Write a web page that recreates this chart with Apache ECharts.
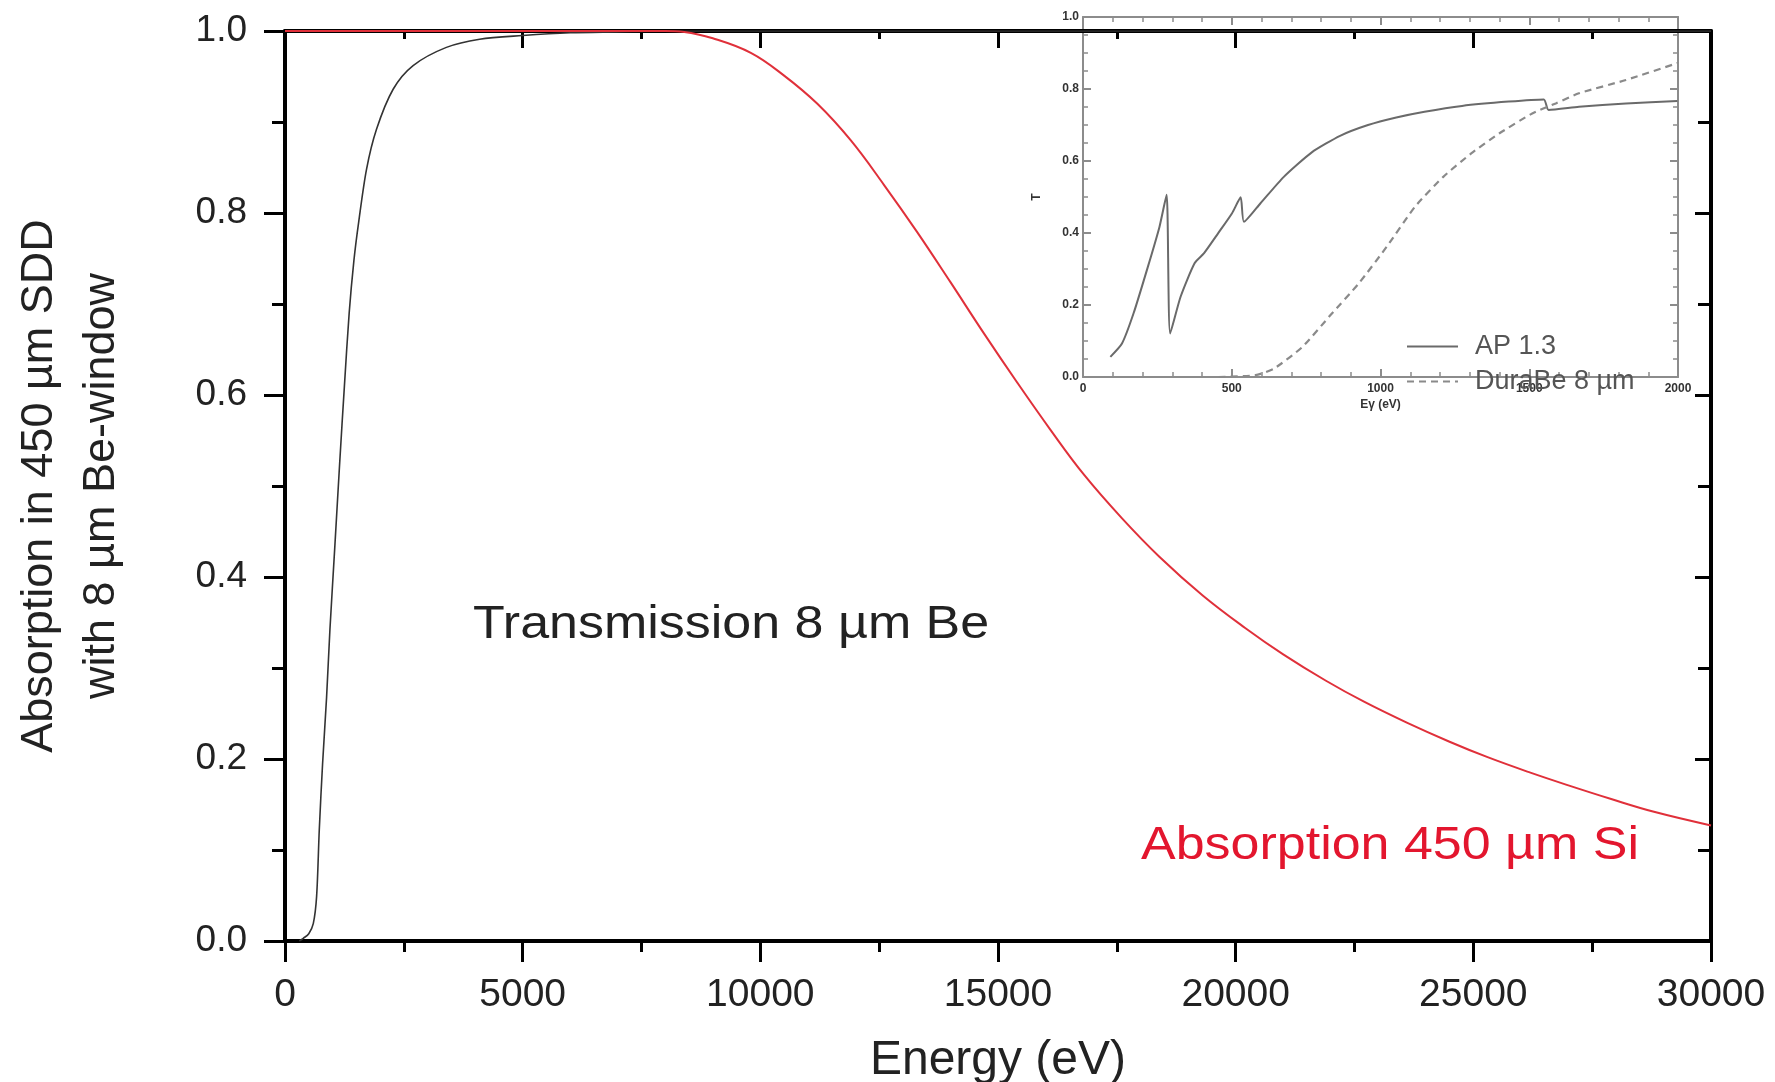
<!DOCTYPE html>
<html>
<head>
<meta charset="utf-8">
<script src="https://cdn.jsdelivr.net/npm/echarts@6/dist/echarts.min.js"></script>
<style>
html,body{margin:0;padding:0;background:#fff}
#chart{width:1775px;height:1082px}
</style>
</head>
<body>
<div id="chart"></div>
<script>
// main plot: 8 um Be transmission (black)
const beEnergy = [300, 385, 500, 595, 665, 721, 791, 875, 945, 1050, 1150, 1250, 1350, 1450, 1550, 1715, 1925, 2275, 2695, 3395, 4095, 5000, 6000, 7000, 8000, 30000];
const beTrans  = [0, 0.003, 0.008, 0.019, 0.049, 0.122, 0.195, 0.268, 0.342, 0.435, 0.525, 0.61, 0.69, 0.748, 0.79, 0.848, 0.892, 0.936, 0.962, 0.982, 0.991, 0.995, 0.998, 0.999, 1.0, 1.0];

// main plot: 450 um Si absorption (red)
const siEnergy = [0, 8000, 8400, 9000, 9800, 10500, 11200, 11900, 12600, 13300, 14000, 14700, 15400, 16100, 16800, 17600, 18400, 19300, 20200, 21000, 21900, 22700, 23600, 24500, 25300, 26200, 27000, 27900, 28800, 30000];
const siAbs    = [1, 1, 0.999, 0.992, 0.976, 0.951, 0.92, 0.88, 0.831, 0.779, 0.724, 0.668, 0.614, 0.562, 0.513, 0.465, 0.422, 0.38, 0.344, 0.315, 0.286, 0.263, 0.24, 0.219, 0.202, 0.185, 0.171, 0.156, 0.142, 0.127];

// inset: AP 1.3 window (solid)
const apEnergy = [92, 131, 170, 218, 257, 281, 293, 328, 375, 407, 454, 501, 530, 541, 596, 675, 769, 864, 958, 1053, 1148, 1274, 1431, 1549, 1565, 1667, 1825, 1998];
const apTrans  = [0.056, 0.093, 0.177, 0.306, 0.417, 0.506, 0.121, 0.223, 0.316, 0.344, 0.399, 0.455, 0.499, 0.431, 0.482, 0.556, 0.624, 0.670, 0.700, 0.721, 0.737, 0.753, 0.765, 0.771, 0.742, 0.751, 0.76, 0.767];

// inset: DuraBe 8 um (dashed)
const duraEnergy = [456, 580, 643, 738, 832, 927, 1021, 1116, 1211, 1305, 1400, 1510, 1589, 1667, 1825, 1998];
const duraTrans  = [0, 0.005, 0.024, 0.084, 0.172, 0.26, 0.362, 0.473, 0.556, 0.621, 0.677, 0.732, 0.76, 0.788, 0.825, 0.872];

const FONT = '"Liberation Sans", Arial, Helvetica, sans-serif';

function pairs(xs, ys) {
    return xs.map(function (x, i) { return [x, ys[i]]; });
}
function plain(v) { return String(v); }
function oneDec(v) { return v.toFixed(1); }

const chart = echarts.init(document.getElementById('chart'), null, {renderer: 'canvas'});

const black = '#000';
const insetGray = '#8c8c8c';

const mainTickStyle = {color: black, width: 3};
const insetLabel = {fontSize: 12, fontWeight: 'bold', color: '#333', fontFamily: FONT};

const option = {
    backgroundColor: '#fff',
    animation: false,
    grid: [
        {left: 285, top: 31, width: 1426, height: 910, outerBoundsMode: 'none', containLabel: false},
        {left: 1083, top: 17, width: 595, height: 360, outerBoundsMode: 'none', containLabel: false}
    ],
    legend: {
        data: ['AP 1.3', 'DuraBe 8 µm'],
        orient: 'vertical',
        left: 1401,
        top: 328,
        itemWidth: 51,
        itemHeight: 27,
        itemGap: 8,
        selectedMode: false,
        itemStyle: {opacity: 0},
        textStyle: {fontSize: 27, color: '#555', fontFamily: FONT, padding: [0, 0, 0, 12]}
    },
    xAxis: [
        {
            gridIndex: 0, type: 'value', position: 'bottom',
            min: 0, max: 30000, interval: 5000,
            axisLine: {show: true, onZero: false, lineStyle: {color: black, width: 4}},
            axisTick: {show: true, length: 21, lineStyle: mainTickStyle},
            minorTick: {show: true, splitNumber: 2, length: 11, lineStyle: mainTickStyle},
            axisLabel: {fontSize: 39, color: '#222', margin: 35, fontFamily: FONT, formatter: plain},
            splitLine: {show: false},
            name: 'Energy (eV)', nameLocation: 'middle', nameGap: 93,
            nameTextStyle: {fontSize: 48, color: '#222', fontFamily: FONT, lineHeight: 54}
        },
        {
            gridIndex: 0, type: 'value', position: 'top',
            min: 0, max: 30000, interval: 5000,
            axisLine: {show: true, onZero: false, lineStyle: {color: black, width: 4}},
            axisTick: {show: true, inside: true, length: 17, lineStyle: mainTickStyle},
            minorTick: {show: true, splitNumber: 2, length: 8, lineStyle: mainTickStyle},
            axisLabel: {show: false},
            splitLine: {show: false}
        },
        {
            gridIndex: 1, type: 'value', position: 'bottom',
            min: 0, max: 2000, interval: 500,
            axisLine: {show: true, onZero: false, lineStyle: {color: insetGray, width: 2}},
            axisTick: {show: true, inside: true, length: 8, lineStyle: {color: insetGray, width: 2}},
            minorTick: {show: true, splitNumber: 5, length: 5, lineStyle: {color: insetGray, width: 1.5}},
            axisLabel: Object.assign({margin: 6, formatter: plain}, insetLabel),
            splitLine: {show: false},
            name: 'Eγ (eV)', nameLocation: 'middle', nameGap: 22,
            nameTextStyle: insetLabel
        },
        {
            gridIndex: 1, type: 'value', position: 'top',
            min: 0, max: 2000, interval: 500,
            axisLine: {show: true, onZero: false, lineStyle: {color: insetGray, width: 2}},
            axisTick: {show: true, inside: true, length: 8, lineStyle: {color: insetGray, width: 2}},
            minorTick: {show: true, splitNumber: 5, length: 5, lineStyle: {color: insetGray, width: 1.5}},
            axisLabel: {show: false},
            splitLine: {show: false}
        }
    ],
    yAxis: [
        {
            gridIndex: 0, type: 'value', position: 'left',
            min: 0, max: 1, interval: 0.2,
            axisLine: {show: true, onZero: false, lineStyle: {color: black, width: 4}},
            axisTick: {show: true, length: 21, lineStyle: mainTickStyle},
            minorTick: {show: true, splitNumber: 2, length: 13, lineStyle: mainTickStyle},
            axisLabel: {fontSize: 37, color: '#222', margin: 38, fontFamily: FONT, formatter: oneDec},
            splitLine: {show: false},
            name: 'Absorption in 450 µm SDD\nwith 8 µm Be-window',
            nameLocation: 'middle', nameRotate: 90, nameGap: 152,
            nameTextStyle: {fontSize: 45, color: '#222', fontFamily: FONT, lineHeight: 62}
        },
        {
            gridIndex: 0, type: 'value', position: 'right',
            min: 0, max: 1, interval: 0.2,
            axisLine: {show: true, onZero: false, lineStyle: {color: black, width: 4}},
            axisTick: {show: true, inside: true, length: 16, lineStyle: mainTickStyle},
            minorTick: {show: true, splitNumber: 2, length: 13, lineStyle: mainTickStyle},
            axisLabel: {show: false},
            splitLine: {show: false}
        },
        {
            gridIndex: 1, type: 'value', position: 'left',
            min: 0, max: 1, interval: 0.2,
            axisLine: {show: true, onZero: false, lineStyle: {color: insetGray, width: 2}},
            axisTick: {show: true, inside: true, length: 8, lineStyle: {color: insetGray, width: 2}},
            minorTick: {show: true, splitNumber: 4, length: 5, lineStyle: {color: insetGray, width: 1.5}},
            axisLabel: Object.assign({margin: 4, formatter: oneDec}, insetLabel),
            splitLine: {show: false},
            name: 'T', nameLocation: 'middle', nameRotate: 90, nameGap: 40,
            nameTextStyle: insetLabel
        },
        {
            gridIndex: 1, type: 'value', position: 'right',
            min: 0, max: 1, interval: 0.2,
            axisLine: {show: true, onZero: false, lineStyle: {color: insetGray, width: 2}},
            axisTick: {show: true, inside: true, length: 8, lineStyle: {color: insetGray, width: 2}},
            minorTick: {show: true, splitNumber: 4, length: 5, lineStyle: {color: insetGray, width: 1.5}},
            axisLabel: {show: false},
            splitLine: {show: false}
        }
    ],
    graphic: [
        {type: 'text', x: 473, y: 625, scaleX: 1.13,
            style: {text: 'Transmission 8 µm Be', font: '46px ' + FONT, fill: '#222',
                align: 'left', verticalAlign: 'middle'}},
        {type: 'text', x: 1141, y: 846, scaleX: 1.13,
            style: {text: 'Absorption 450 µm Si', font: '46px ' + FONT, fill: '#e3162e',
                align: 'left', verticalAlign: 'middle'}}
    ],
    series: [
        {
            name: 'Be 8 µm', type: 'line', xAxisIndex: 0, yAxisIndex: 0,
            data: pairs(beEnergy, beTrans), symbol: 'none',
            smooth: 0.3,
            lineStyle: {color: '#333', width: 1.6}, z: 2
        },
        {
            name: 'Si 450 µm', type: 'line', xAxisIndex: 0, yAxisIndex: 0,
            data: pairs(siEnergy, siAbs), symbol: 'none',
            smooth: 0.4,
            lineStyle: {color: '#e0303a', width: 2}, z: 3
        },
        {
            name: 'AP 1.3', type: 'line', xAxisIndex: 2, yAxisIndex: 2,
            data: pairs(apEnergy, apTrans), symbol: 'none',
            smooth: 0.2,
            itemStyle: {color: '#6a6a6a'},
            lineStyle: {color: '#6a6a6a', width: 2}
        },
        {
            name: 'DuraBe 8 µm', type: 'line', xAxisIndex: 2, yAxisIndex: 2,
            data: pairs(duraEnergy, duraTrans), symbol: 'none',
            smooth: 0.2,
            itemStyle: {color: '#8a8a8a'},
            lineStyle: {color: '#8a8a8a', width: 2.2, type: [7, 5]}
        }
    ]
};

chart.setOption(option);
</script>
</body>
</html>
